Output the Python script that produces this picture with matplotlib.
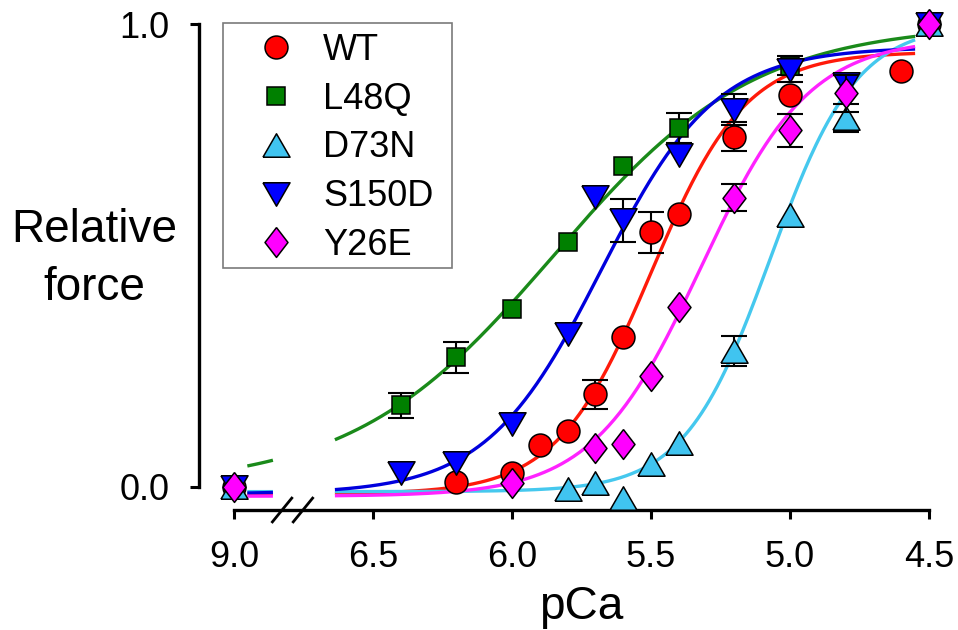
import numpy as np
import matplotlib
matplotlib.use("Agg")
import matplotlib.pyplot as plt
from matplotlib.lines import Line2D
from matplotlib.patches import Rectangle

plt.rcParams['font.family'] = ['Liberation Sans', 'DejaVu Sans']

# ---------------- data ----------------
series_names = ["WT", "L48Q", "D73N", "S150D", "Y26E"]

wt_pca = [9.0, 6.2, 6.0, 5.9, 5.8, 5.7, 5.6, 5.5, 5.4, 5.2, 5.0, 4.6, 4.5]
wt_force = [0.0, 0.01, 0.03, 0.09, 0.12, 0.20, 0.325, 0.55, 0.59, 0.757, 0.846, 0.898, 1.0]
wt_err = [0, 0, 0, 0, 0, 0.032, 0, 0.045, 0, 0.032, 0, 0, 0]

l48q_pca = [9.0, 6.4, 6.2, 6.0, 5.8, 5.6, 5.4, 5.0, 4.5]
l48q_force = [0.0, 0.177, 0.28, 0.385, 0.53, 0.693, 0.775, 0.91, 1.0]
l48q_err = [0, 0.027, 0.033, 0, 0, 0, 0.032, 0.02, 0]

d73n_pca = [9.0, 5.8, 5.7, 5.6, 5.5, 5.4, 5.2, 5.0, 4.8, 4.5]
d73n_force = [0.0, -0.004, 0.009, -0.024, 0.05, 0.095, 0.294, 0.587, 0.797, 1.0]
d73n_err = [0, 0, 0, 0, 0, 0, 0.032, 0, 0.03, 0]

s150d_pca = [9.0, 6.4, 6.2, 6.0, 5.8, 5.7, 5.6, 5.4, 5.2, 5.0, 4.8, 4.5]
s150d_force = [0.0, 0.03, 0.052, 0.135, 0.33, 0.626, 0.576, 0.716, 0.815, 0.90, 0.87, 1.0]
s150d_err = [0, 0, 0, 0, 0, 0, 0.047, 0, 0.034, 0.025, 0, 0]

y26e_pca = [9.0, 6.0, 5.7, 5.6, 5.5, 5.4, 5.2, 5.0, 4.8, 4.5]
y26e_force = [0.0, 0.009, 0.085, 0.093, 0.24, 0.388, 0.625, 0.77, 0.85, 1.0]
y26e_err = [0, 0, 0, 0, 0, 0, 0.029, 0.036, 0.04, 0]

# Hill-fit parameters
hill_bottom = [-0.015, 0.0, -0.01, -0.015, -0.02]
hill_top = [0.94, 1.0, 1.0, 0.95, 0.97]
hill_pca50 = [5.50, 5.85, 5.07, 5.68, 5.32]
hill_n = [2.55, 1.2, 2.8, 2.1, 2.23]

# broken axis: pCa 9.0 is drawn at axis position 7.0
break_value = 9.0
break_position = 7.0
tick_positions = [7.0, 6.5, 6.0, 5.5, 5.0, 4.5]
tick_labels = ["9.0", "6.5", "6.0", "5.5", "5.0", "4.5"]
y_ticks = [0.0, 1.0]
y_tick_labels = ["0.0", "1.0"]

# ---------------- styles ----------------
marker_colors = ["#FF0000", "#008000", "#40C4F0", "#0000FF", "#FF00FF"]
line_colors = ["#FF1A0A", "#1A8A1A", "#45C8EE", "#0000DD", "#FF22FF"]
tri_up = [(-0.5, -0.433), (0.5, -0.433), (0, 0.433), (-0.5, -0.433)]
tri_down = [(-0.5, 0.433), (0.5, 0.433), (0, -0.433), (-0.5, 0.433)]
diamond = [(0, 1), (0.77, 0), (0, -1), (-0.77, 0), (0, 1)]
markers = ["o", "s", tri_up, tri_down, diamond]
msizes = [16.5, 13.5, 19.5, 19.5, 21.5]

pcas = [wt_pca, l48q_pca, d73n_pca, s150d_pca, y26e_pca]
forces = [wt_force, l48q_force, d73n_force, s150d_force, y26e_force]
errs = [wt_err, l48q_err, d73n_err, s150d_err, y26e_err]


def to_axis(p):
    p = np.asarray(p, dtype=float)
    return np.where(p >= break_value, break_position, p)


def hill(x, b, t, p50, n):
    return b + (t - b) / (1.0 + 10.0 ** (n * (x - p50)))


W, H = 958, 630
fig = plt.figure(figsize=(W / 100, H / 100), dpi=100)
ax = fig.add_axes([234 / W, 1 - 510 / H, (929 - 234) / W, (510 - 24) / H])
ax.set_xlim(7.0, 4.5)
ax.set_ylim(-(510 - 487) / 463, 1.0)

# fitted curves
u_main = np.linspace(6.637, 4.55, 300)
u_left = np.linspace(6.952, 6.86, 20)
for i in range(5):
    args = (hill_bottom[i], hill_top[i], hill_pca50[i], hill_n[i])
    for u in (u_main, u_left):
        ax.plot(u, hill(u, *args), color=line_colors[i], lw=2.4, zorder=2,
                solid_capstyle='butt', clip_on=False)

# data points with error bars
for i in range(5):
    x = to_axis(pcas[i])
    y = np.asarray(forces[i])
    e = np.asarray(errs[i])
    m = e > 0
    ax.errorbar(x[m], y[m], yerr=e[m], fmt='none', ecolor='black',
                elinewidth=1.5, capsize=9.7, capthick=1.5, zorder=3 + 2 * i,
                clip_on=False)
    ax.plot(x, y, linestyle='none', marker=markers[i], ms=msizes[i],
            mfc=marker_colors[i], mec='black', mew=1.1, zorder=4 + 2 * i,
            clip_on=False)

# axes styling
for s in ("top", "right"):
    ax.spines[s].set_visible(False)
ax.spines["left"].set_position(("outward", 35 * 0.72))
ax.spines["left"].set_bounds(0, 1)
ax.spines["bottom"].set_bounds(7.0, 4.5)
for s in ("left", "bottom"):
    ax.spines[s].set_linewidth(2.4)
ax.set_xticks(tick_positions)
ax.set_xticklabels(tick_labels)
ax.set_yticks(y_ticks)
ax.set_yticklabels(y_tick_labels)
ax.tick_params(direction='out', length=6.5, width=2.2, labelsize=26, pad=15)

# axis-break marks (two slashes across the x axis)
y0 = ax.get_ylim()[0]
for c in (6.827, 6.752):
    ax.plot([c + 0.038, c - 0.038], [y0 - 0.028, y0 + 0.028],
            color='black', lw=2.0, clip_on=False, zorder=10,
            solid_capstyle='butt')

# labels
fig.text(581.5 / W, 1 - 619 / H, "pCa", ha='center', va='baseline', fontsize=33)
fig.text(94 / W, 1 - 300 / H, "Relative\nforce", ha='center', va='baseline',
         fontsize=33, linespacing=1.40)

# legend
handles = [Line2D([], [], linestyle='none', marker=markers[i], ms=msizes[i],
                  mfc=marker_colors[i], mec='black', mew=1.1) for i in range(5)]
leg = ax.legend(handles, series_names, loc='upper left',
                bbox_to_anchor=(258 / W, 1 - 33 / H), bbox_transform=fig.transFigure,
                frameon=False, fontsize=26, borderpad=0, borderaxespad=0,
                handlelength=1.0, handletextpad=0.8, labelspacing=0.38,
                numpoints=1)
fig.patches.append(Rectangle((223 / W, 1 - 268 / H), (452 - 223) / W, (268 - 23) / H,
                             transform=fig.transFigure, fill=False,
                             edgecolor='#7a7a7a', lw=1.2, figure=fig))

fig.savefig("out.png", dpi=100)
